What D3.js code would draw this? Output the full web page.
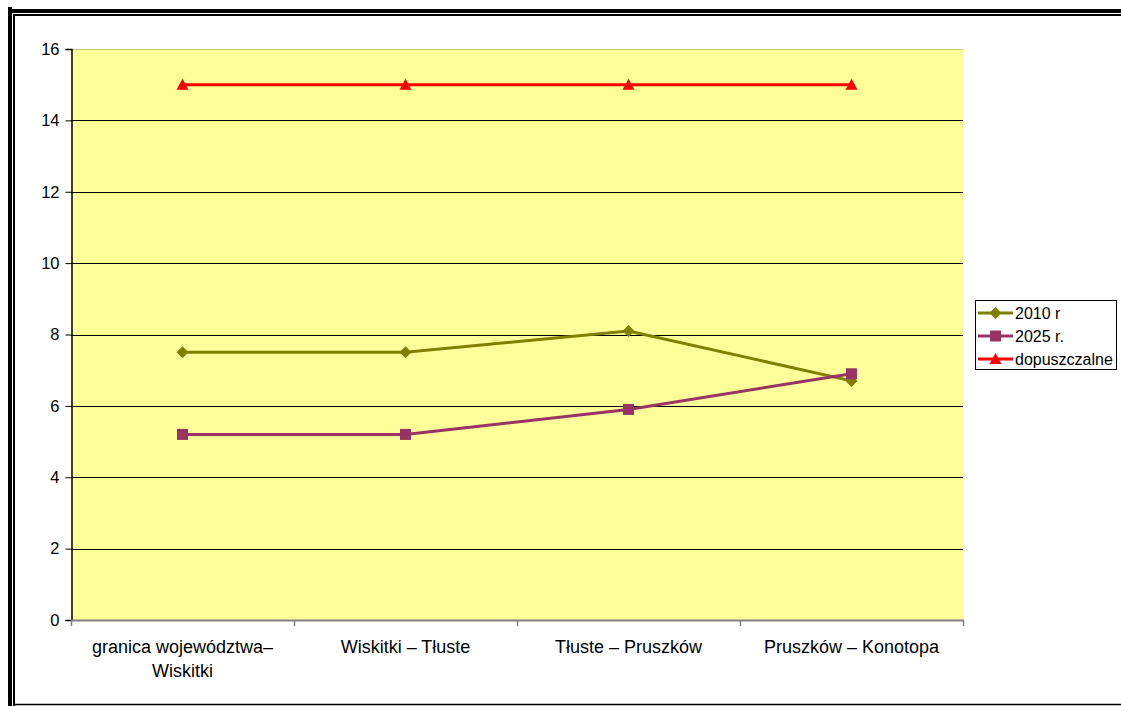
<!DOCTYPE html>
<html>
<head>
<meta charset="utf-8">
<script src="https://cdn.jsdelivr.net/npm/d3@7/dist/d3.min.js"></script>
<style>
  html, body { margin: 0; padding: 0; background: #fff; }
  svg { display: block; font-family: "Liberation Sans", Arial, sans-serif; }
</style>
</head>
<body>
<svg id="chart" width="1121" height="706"></svg>
<script>
// Road sections (x axis)
const categories = [
  ["granica województwa–", "Wiskitki"],
  ["Wiskitki – Tłuste"],
  ["Tłuste – Pruszków"],
  ["Pruszków – Konotopa"]
];
const seriesNames = ["2010 r", "2025 r.", "dopuszczalne"];
const values2010 = [7.5, 7.5, 8.1, 6.7];
const values2025 = [5.2, 5.2, 5.9, 6.9];
const valuesLimit = [15, 15, 15, 15];
const yTicks = [0, 2, 4, 6, 8, 10, 12, 14, 16];

const series = [
  { name: seriesNames[0], values: values2010, color: "#808000", marker: "diamond" },
  { name: seriesNames[1], values: values2025, color: "#993366", marker: "square" },
  { name: seriesNames[2], values: valuesLimit, color: "#FF0000", marker: "triangle" }
];

const svg = d3.select("#chart");

// Outer double frame
svg.append("line").attr("x1", 8).attr("x2", 1121).attr("y1", 11).attr("y2", 11)
  .attr("stroke", "#000").attr("stroke-width", 4);
svg.append("line").attr("x1", 10).attr("x2", 10).attr("y1", 7).attr("y2", 706)
  .attr("stroke", "#000").attr("stroke-width", 4);
svg.append("line").attr("x1", 14).attr("x2", 1121).attr("y1", 15).attr("y2", 15)
  .attr("stroke", "#000").attr("stroke-width", 2);
svg.append("line").attr("x1", 14).attr("x2", 14).attr("y1", 14).attr("y2", 706)
  .attr("stroke", "#000").attr("stroke-width", 2);
svg.append("line").attr("x1", 14).attr("x2", 1121).attr("y1", 704.5).attr("y2", 704.5)
  .attr("stroke", "#000").attr("stroke-width", 1.5);

const plot = { left: 71, right: 963, top: 49, bottom: 620 };

const x = d3.scaleBand()
  .domain(d3.range(categories.length))
  .range([plot.left, plot.right])
  .paddingInner(0).paddingOuter(0);
const y = d3.scaleLinear().domain([0, 16]).range([plot.bottom, plot.top]);

// Plot background
svg.append("rect")
  .attr("x", plot.left).attr("y", plot.top)
  .attr("width", plot.right - plot.left).attr("height", plot.bottom - plot.top)
  .attr("fill", "#FFFF99");

// Horizontal gridlines
svg.append("g").selectAll("line")
  .data(yTicks.filter(t => t > 0))
  .join("line")
  .attr("x1", plot.left).attr("x2", plot.right)
  .attr("y1", d => Math.round(y(d)) + 0.5).attr("y2", d => Math.round(y(d)) + 0.5)
  .attr("stroke", d => d === 16 ? "#c8c870" : "#000")
  .attr("stroke-width", 1);

// Y axis
const yAxis = d3.axisLeft(y).tickValues(yTicks).tickSize(6).tickPadding(6)
  .tickFormat(d3.format("d"));
const gy = svg.append("g").attr("transform", `translate(${plot.left + 0.5},0)`).call(yAxis);
gy.select(".domain").attr("stroke", "#000").attr("stroke-width", 1.5);
gy.selectAll(".tick line").attr("stroke", "#000");
gy.selectAll(".tick text").attr("font-size", 16.5).attr("fill", "#000")
  .attr("font-family", "'Liberation Sans', Arial, sans-serif");

// X axis line and category boundary ticks
svg.append("line")
  .attr("x1", plot.left).attr("x2", plot.right + 1)
  .attr("y1", plot.bottom + 0.5).attr("y2", plot.bottom + 0.5)
  .attr("stroke", "#808080").attr("stroke-width", 2);
const boundaries = d3.range(categories.length + 1).map(i =>
  i < categories.length ? x(i) : x(categories.length - 1) + x.bandwidth());
svg.append("g").selectAll("line")
  .data(boundaries)
  .join("line")
  .attr("x1", d => Math.round(d) + 0.5).attr("x2", d => Math.round(d) + 0.5)
  .attr("y1", plot.bottom).attr("y2", plot.bottom + 6)
  .attr("stroke", "#808080").attr("stroke-width", 1.5);

// Category labels
const labels = svg.append("g").selectAll("text")
  .data(categories)
  .join("text")
  .attr("x", (d, i) => x(i) + x.bandwidth() / 2)
  .attr("y", 653)
  .attr("text-anchor", "middle")
  .attr("font-size", 18)
  .attr("fill", "#000");
labels.selectAll("tspan")
  .data(d => d)
  .join("tspan")
  .attr("x", function() { return d3.select(this.parentNode).attr("x"); })
  .attr("dy", (d, i) => i === 0 ? 0 : 24)
  .text(d => d);

// Marker shapes
function drawMarker(g, type, color, cx, cy) {
  if (type === "diamond") {
    g.append("path").attr("d", "M0,-6L6,0L0,6L-6,0Z")
      .attr("transform", `translate(${cx},${cy})`).attr("fill", color);
  } else if (type === "square") {
    g.append("rect").attr("x", cx - 5.5).attr("y", cy - 5.5)
      .attr("width", 11).attr("height", 11).attr("fill", color);
  } else {
    g.append("path").attr("d", "M0,-6L6,5L-6,5Z")
      .attr("transform", `translate(${cx},${cy})`).attr("fill", color);
  }
}

// Series lines and markers
const line = d3.line()
  .x((d, i) => x(i) + x.bandwidth() / 2)
  .y(d => y(d));
series.forEach(s => {
  const g = svg.append("g");
  g.append("path").datum(s.values)
    .attr("d", line)
    .attr("fill", "none")
    .attr("stroke", s.color)
    .attr("stroke-width", 3);
  s.values.forEach((v, i) => drawMarker(g, s.marker, s.color, x(i) + x.bandwidth() / 2, y(v)));
});

// Legend
const legend = svg.append("g");
legend.append("rect")
  .attr("x", 975.5).attr("y", 300.5).attr("width", 141).attr("height", 69)
  .attr("fill", "#fff").attr("stroke", "#000").attr("stroke-width", 1);
series.forEach((s, i) => {
  const ly = 313 + i * 23;
  legend.append("line").attr("x1", 978).attr("x2", 1013).attr("y1", ly).attr("y2", ly)
    .attr("stroke", s.color).attr("stroke-width", 3);
  drawMarker(legend, s.marker, s.color, 995.5, ly);
  legend.append("text").attr("x", 1015).attr("y", ly + 5.5)
    .attr("font-size", 16).attr("fill", "#000").text(s.name);
});
</script>
</body>
</html>
